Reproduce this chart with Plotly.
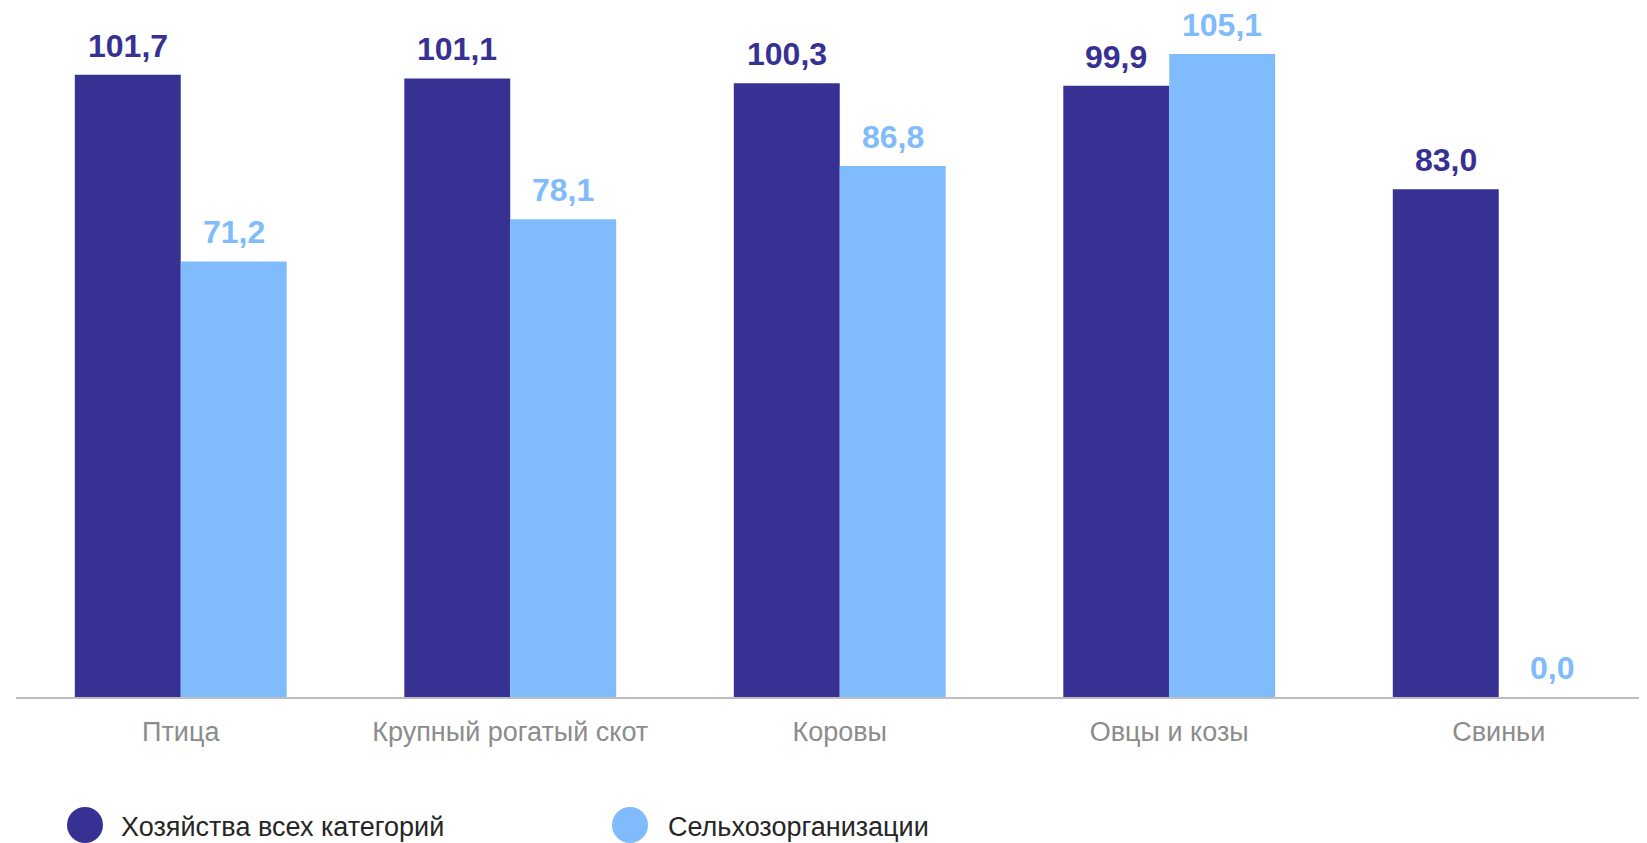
import plotly.graph_objects as go

categories = ["Птица", "Крупный рогатый скот", "Коровы", "Овцы и козы", "Свиньи"]
series_names = ["Хозяйства всех категорий", "Сельхозорганизации"]
values_all = [101.7, 101.1, 100.3, 99.9, 83.0]
values_agro = [71.2, 78.1, 86.8, 105.1, 0.0]

DARK = "#363193"
LIGHT = "#80BBFB"
FONT = "Liberation Sans, Arial, sans-serif"

# page body has an 8px margin; size the figure so it fits the 1647x843 window
OFF = 8
W, H = 1647 - OFF, 843 - OFF
ML, MR, MT, MB = 8, 0, 16, 146
BAR_PX = 106

def fmt(v):
    return f"{v:.1f}".replace(".", ",")

fig = go.Figure()
fig.add_trace(go.Bar(x=categories, y=values_all, name=series_names[0],
                     marker=dict(color=DARK, line=dict(width=0)), showlegend=False))
fig.add_trace(go.Bar(x=categories, y=values_agro, name=series_names[1],
                     marker=dict(color=LIGHT, line=dict(width=0)), showlegend=False))

annotations = []
for vals, color, shift in [(values_all, DARK, -BAR_PX / 2), (values_agro, LIGHT, BAR_PX / 2)]:
    for c, v in zip(categories, vals):
        annotations.append(dict(
            x=c, y=v, xref="x", yref="y", text=f"<b>{fmt(v)}</b>",
            showarrow=False, xanchor="center", yanchor="bottom",
            xshift=shift, yshift=9,
            font=dict(family=FONT, size=32, color=color)))

plot_w = W - ML - MR
plot_h = H - MT - MB

def px_x(px):
    return (px - OFF - ML) / plot_w

def px_y(py):
    return (H - MB - (py - OFF)) / plot_h

shapes = []
legend_items = [(series_names[0], DARK, 85, 119), (series_names[1], LIGHT, 630, 666)]
for name, color, cx, tx in legend_items:
    shapes.append(dict(type="circle", xref="paper", yref="paper",
                       xsizemode="pixel", ysizemode="pixel",
                       xanchor=px_x(cx), yanchor=px_y(825),
                       x0=-18, x1=18, y0=-18, y1=18,
                       fillcolor=color, line=dict(width=0)))
    annotations.append(dict(x=px_x(tx), y=px_y(827), xref="paper", yref="paper",
                            text=name, showarrow=False, xanchor="left", yanchor="middle",
                            font=dict(family=FONT, size=27, color="#262626")))

fig.update_layout(
    width=W, height=H,
    margin=dict(l=ML, r=MR, t=MT, b=MB),
    paper_bgcolor="white", plot_bgcolor="white",
    barmode="group", bargap=0.357, bargroupgap=0,
    showlegend=False,
    annotations=annotations, shapes=shapes,
    font=dict(family=FONT),
)
fig.update_xaxes(range=[-0.5, 4.45], showline=True, linecolor="#BDBDBD", linewidth=2,
                 ticks="outside", ticklen=10, tickcolor="rgba(0,0,0,0)",
                 tickfont=dict(family=FONT, size=27, color="#8C8C8C"),
                 showgrid=False, zeroline=False)
fig.update_yaxes(range=[0, 110], visible=False, showgrid=False, zeroline=False)

fig.write_html("out.html")
